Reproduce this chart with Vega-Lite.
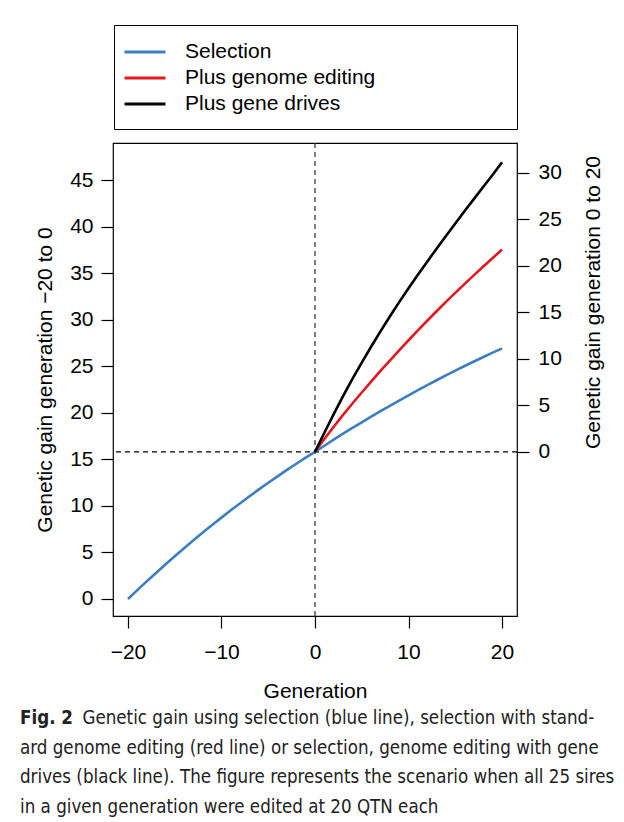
{
  "$schema": "https://vega.github.io/schema/vega-lite/v6.json",
  "width": 404,
  "height": 473,
  "autosize": {"type": "none"},
  "padding": {"left": 113, "top": 143, "right": 107, "bottom": 206},
  "background": "white",
  "config": {
    "font": "Liberation Sans",
    "view": {"stroke": "black", "strokeWidth": 1.2},
    "axis": {
      "grid": false,
      "domain": false,
      "labelFontSize": 21,
      "titleFontSize": 21,
      "titleFontWeight": "normal",
      "labelColor": "black",
      "titleColor": "black",
      "tickColor": "black",
      "tickSize": 12,
      "tickWidth": 1.2
    },
    "legend": {
      "orient": "none",
      "legendX": 1,
      "legendY": -118,
      "direction": "vertical",
      "strokeColor": "black",
      "padding": 15,
      "labelFontSize": 21,
      "labelColor": "black",
      "labelLimit": 500,
      "labelOffset": 28,
      "symbolOffset": 4,
      "rowPadding": 4,
      "symbolType": "M-1.95,0H1.95",
      "symbolSize": 441,
      "symbolStrokeWidth": 3
    }
  },
  "title": {
    "text": "Fig. 2",
    "subtitle": [
      "\u2800\u2003\u2003\u2003Genetic gain using selection (blue line), selection with stand-",
      "ard genome editing (red line) or selection, genome editing with gene",
      "drives (black line). The figure represents the scenario when all 25 sires",
      "in a given generation were edited at 20 QTN each"
    ],
    "orient": "bottom",
    "anchor": "start",
    "frame": "group",
    "dx": -93,
    "offset": 8,
    "font": "DejaVu Sans Condensed",
    "fontSize": 18.6,
    "fontWeight": "bold",
    "color": "#222222",
    "subtitleFont": "DejaVu Sans Condensed",
    "subtitleFontSize": 18.6,
    "subtitleColor": "#222222",
    "subtitleLineHeight": 29.5,
    "subtitlePadding": -18.6
  },
  "datasets": {
    "gain": [
      {"generation": -20, "gain": 0, "series": "Selection", "period": "before"},
      {"generation": -19, "gain": 0.95, "series": "Selection", "period": "before"},
      {"generation": -18, "gain": 1.89, "series": "Selection", "period": "before"},
      {"generation": -17, "gain": 2.8, "series": "Selection", "period": "before"},
      {"generation": -16, "gain": 3.71, "series": "Selection", "period": "before"},
      {"generation": -15, "gain": 4.59, "series": "Selection", "period": "before"},
      {"generation": -14, "gain": 5.46, "series": "Selection", "period": "before"},
      {"generation": -13, "gain": 6.31, "series": "Selection", "period": "before"},
      {"generation": -12, "gain": 7.14, "series": "Selection", "period": "before"},
      {"generation": -11, "gain": 7.96, "series": "Selection", "period": "before"},
      {"generation": -10, "gain": 8.75, "series": "Selection", "period": "before"},
      {"generation": -9, "gain": 9.54, "series": "Selection", "period": "before"},
      {"generation": -8, "gain": 10.3, "series": "Selection", "period": "before"},
      {"generation": -7, "gain": 11.05, "series": "Selection", "period": "before"},
      {"generation": -6, "gain": 11.78, "series": "Selection", "period": "before"},
      {"generation": -5, "gain": 12.5, "series": "Selection", "period": "before"},
      {"generation": -4, "gain": 13.19, "series": "Selection", "period": "before"},
      {"generation": -3, "gain": 13.88, "series": "Selection", "period": "before"},
      {"generation": -2, "gain": 14.54, "series": "Selection", "period": "before"},
      {"generation": -1, "gain": 15.19, "series": "Selection", "period": "before"},
      {"generation": 0, "gain": 15.82, "series": "Selection", "period": "before"},

      {"generation": 0, "gain": 0, "series": "Selection", "period": "after"},
      {"generation": 1, "gain": 0.66, "series": "Selection", "period": "after"},
      {"generation": 2, "gain": 1.31, "series": "Selection", "period": "after"},
      {"generation": 3, "gain": 1.95, "series": "Selection", "period": "after"},
      {"generation": 4, "gain": 2.57, "series": "Selection", "period": "after"},
      {"generation": 5, "gain": 3.18, "series": "Selection", "period": "after"},
      {"generation": 6, "gain": 3.78, "series": "Selection", "period": "after"},
      {"generation": 7, "gain": 4.37, "series": "Selection", "period": "after"},
      {"generation": 8, "gain": 4.95, "series": "Selection", "period": "after"},
      {"generation": 9, "gain": 5.52, "series": "Selection", "period": "after"},
      {"generation": 10, "gain": 6.08, "series": "Selection", "period": "after"},
      {"generation": 11, "gain": 6.63, "series": "Selection", "period": "after"},
      {"generation": 12, "gain": 7.17, "series": "Selection", "period": "after"},
      {"generation": 13, "gain": 7.7, "series": "Selection", "period": "after"},
      {"generation": 14, "gain": 8.22, "series": "Selection", "period": "after"},
      {"generation": 15, "gain": 8.73, "series": "Selection", "period": "after"},
      {"generation": 16, "gain": 9.23, "series": "Selection", "period": "after"},
      {"generation": 17, "gain": 9.72, "series": "Selection", "period": "after"},
      {"generation": 18, "gain": 10.2, "series": "Selection", "period": "after"},
      {"generation": 19, "gain": 10.67, "series": "Selection", "period": "after"},
      {"generation": 20, "gain": 11.13, "series": "Selection", "period": "after"},

      {"generation": 0, "gain": 0, "series": "Plus genome editing", "period": "after"},
      {"generation": 1, "gain": 1.38, "series": "Plus genome editing", "period": "after"},
      {"generation": 2, "gain": 2.7, "series": "Plus genome editing", "period": "after"},
      {"generation": 3, "gain": 3.98, "series": "Plus genome editing", "period": "after"},
      {"generation": 4, "gain": 5.2, "series": "Plus genome editing", "period": "after"},
      {"generation": 5, "gain": 6.38, "series": "Plus genome editing", "period": "after"},
      {"generation": 6, "gain": 7.55, "series": "Plus genome editing", "period": "after"},
      {"generation": 7, "gain": 8.7, "series": "Plus genome editing", "period": "after"},
      {"generation": 8, "gain": 9.82, "series": "Plus genome editing", "period": "after"},
      {"generation": 9, "gain": 10.92, "series": "Plus genome editing", "period": "after"},
      {"generation": 10, "gain": 12.0, "series": "Plus genome editing", "period": "after"},
      {"generation": 11, "gain": 13.06, "series": "Plus genome editing", "period": "after"},
      {"generation": 12, "gain": 14.1, "series": "Plus genome editing", "period": "after"},
      {"generation": 13, "gain": 15.12, "series": "Plus genome editing", "period": "after"},
      {"generation": 14, "gain": 16.12, "series": "Plus genome editing", "period": "after"},
      {"generation": 15, "gain": 17.1, "series": "Plus genome editing", "period": "after"},
      {"generation": 16, "gain": 18.06, "series": "Plus genome editing", "period": "after"},
      {"generation": 17, "gain": 19.0, "series": "Plus genome editing", "period": "after"},
      {"generation": 18, "gain": 19.93, "series": "Plus genome editing", "period": "after"},
      {"generation": 19, "gain": 20.84, "series": "Plus genome editing", "period": "after"},
      {"generation": 20, "gain": 21.75, "series": "Plus genome editing", "period": "after"},

      {"generation": 0, "gain": 0, "series": "Plus gene drives", "period": "after"},
      {"generation": 1, "gain": 2.05, "series": "Plus gene drives", "period": "after"},
      {"generation": 2, "gain": 4.05, "series": "Plus gene drives", "period": "after"},
      {"generation": 3, "gain": 6.0, "series": "Plus gene drives", "period": "after"},
      {"generation": 4, "gain": 7.85, "series": "Plus gene drives", "period": "after"},
      {"generation": 5, "gain": 9.6, "series": "Plus gene drives", "period": "after"},
      {"generation": 6, "gain": 11.3, "series": "Plus gene drives", "period": "after"},
      {"generation": 7, "gain": 12.95, "series": "Plus gene drives", "period": "after"},
      {"generation": 8, "gain": 14.55, "series": "Plus gene drives", "period": "after"},
      {"generation": 9, "gain": 16.1, "series": "Plus gene drives", "period": "after"},
      {"generation": 10, "gain": 17.6, "series": "Plus gene drives", "period": "after"},
      {"generation": 11, "gain": 19.05, "series": "Plus gene drives", "period": "after"},
      {"generation": 12, "gain": 20.45, "series": "Plus gene drives", "period": "after"},
      {"generation": 13, "gain": 21.85, "series": "Plus gene drives", "period": "after"},
      {"generation": 14, "gain": 23.2, "series": "Plus gene drives", "period": "after"},
      {"generation": 15, "gain": 24.55, "series": "Plus gene drives", "period": "after"},
      {"generation": 16, "gain": 25.9, "series": "Plus gene drives", "period": "after"},
      {"generation": 17, "gain": 27.2, "series": "Plus gene drives", "period": "after"},
      {"generation": 18, "gain": 28.5, "series": "Plus gene drives", "period": "after"},
      {"generation": 19, "gain": 29.8, "series": "Plus gene drives", "period": "after"},
      {"generation": 20, "gain": 31.15, "series": "Plus gene drives", "period": "after"}
    ],
    "origin": [{}]
  },
  "data": {"name": "gain"},
  "layer": [
    {
      "layer": [
        {
          "data": {"name": "origin"},
          "mark": {"type": "rule", "stroke": "#3a3a3a", "strokeWidth": 1.3, "strokeDash": [5, 4]},
          "encoding": {"x": {"datum": 0, "type": "quantitative"}}
        },
        {
          "transform": [{"filter": "datum.period === 'before'"}],
          "mark": {"type": "line", "strokeWidth": 2.6},
          "encoding": {
            "x": {
              "field": "generation",
              "type": "quantitative",
              "scale": {"domain": [-21.6, 21.6], "nice": false, "zero": false},
              "axis": {
                "values": [-20, -10, 0, 10, 20],
                "title": "Generation",
                "labelPadding": 13,
                "titlePadding": 18
              }
            },
            "y": {
              "field": "gain",
              "type": "quantitative",
              "scale": {"domain": [-1.83, 49.03], "nice": false, "zero": false},
              "axis": {
                "orient": "left",
                "values": [0, 5, 10, 15, 20, 25, 30, 35, 40, 45],
                "title": "Genetic gain generation \u221220 to 0",
                "labelPadding": 8,
                "titlePadding": 14
              }
            },
            "color": {
              "field": "series",
              "type": "nominal",
              "scale": {
                "domain": ["Selection", "Plus genome editing", "Plus gene drives"],
                "range": ["#3b7fc0", "#e3191f", "#000000"]
              },
              "legend": {
                "title": null,
                "labelExpr": "pad(datum.label, 38, '\u00a0') + '\u2800'"
              }
            }
          }
        }
      ]
    },
    {
      "layer": [
        {
          "data": {"name": "origin"},
          "mark": {"type": "rule", "stroke": "black", "strokeWidth": 1.3, "strokeDash": [5, 4]},
          "encoding": {"y": {"datum": 0, "type": "quantitative"}}
        },
        {
          "transform": [{"filter": "datum.period === 'after'"}],
          "mark": {"type": "line", "strokeWidth": 2.6},
          "encoding": {
            "x": {"field": "generation", "type": "quantitative"},
            "y": {
              "field": "gain",
              "type": "quantitative",
              "scale": {"domain": [-17.65, 33.21], "nice": false, "zero": false},
              "axis": {
                "orient": "right",
                "values": [0, 5, 10, 15, 20, 25, 30],
                "title": "Genetic gain generation 0 to 20",
                "titleAngle": -90,
                "titleBaseline": "top",
                "titleY": 159,
                "labelPadding": 9,
                "titlePadding": 21
              }
            },
            "color": {"field": "series", "type": "nominal"}
          }
        }
      ]
    }
  ],
  "resolve": {"scale": {"y": "independent"}, "axis": {"y": "independent"}}
}
